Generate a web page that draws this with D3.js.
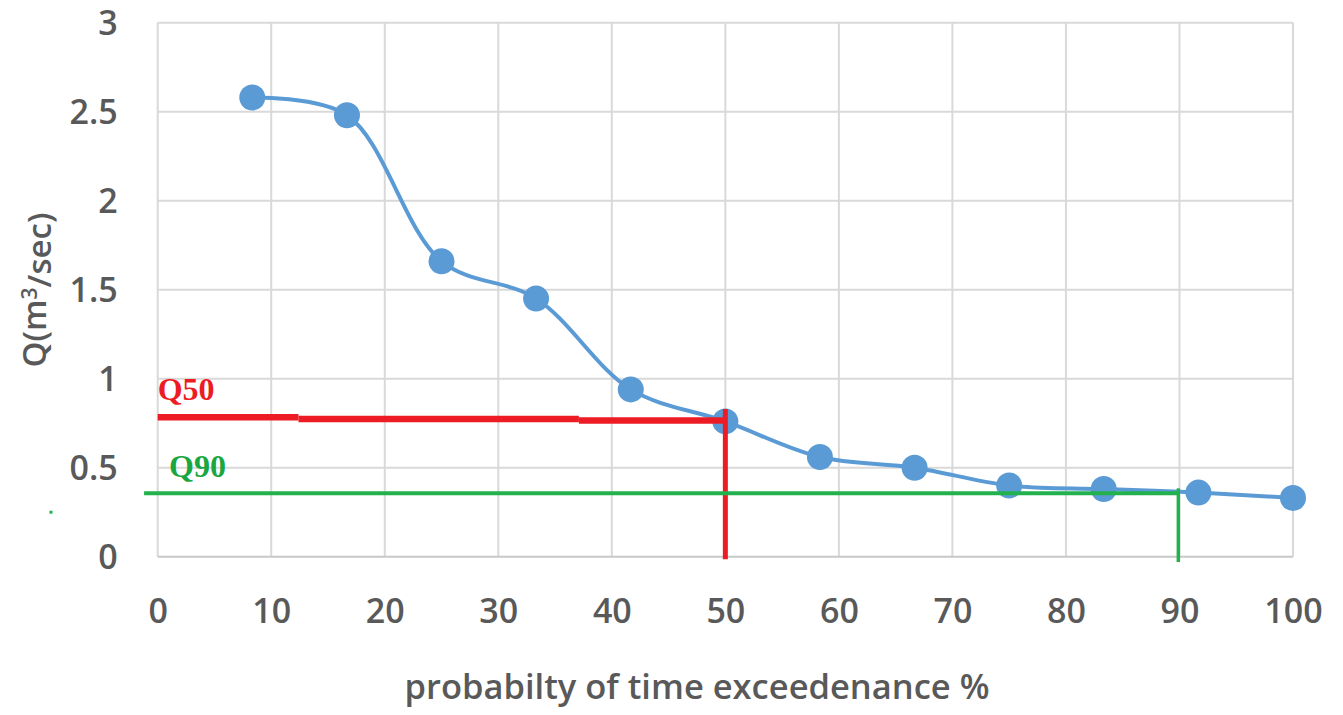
<!DOCTYPE html>
<html>
<head>
<meta charset="utf-8">
<script src="https://cdn.jsdelivr.net/npm/d3@7"></script>
<style>
  body { margin: 0; background: #fff; }
  svg { display: block; }
  .tick text { font-family: "Open Sans", sans-serif; font-weight: 600; fill: #595959; }
</style>
</head>
<body>
<script>
// data
var probs = [8.33, 16.67, 25, 33.33, 41.67, 50, 58.33, 66.67, 75, 83.33, 91.67, 100];
var flows = [2.58, 2.48, 1.66, 1.45, 0.94, 0.76, 0.56, 0.50, 0.40, 0.38, 0.36, 0.33];
var xTicks = [0, 10, 20, 30, 40, 50, 60, 70, 80, 90, 100];
var yTicks = [0, 0.5, 1, 1.5, 2, 2.5, 3];

// hand drawn Q50 / Q90 marks: [x1, x2, y] and [x, y1, y2]
var q50Segments = [[0, 12.4, 0.783], [12.4, 37.1, 0.774], [37.1, 50, 0.765]];
var q50Drop = [50, 0.83, -0.015];
var q90Line = [-1.2, 89.9, 0.357];
var q90Drop = [89.9, 0.384, -0.03];
var q90Dot = [-9.4, 0.25];

var width = 1343, height = 715;
var margin = {top: 22.7, right: 50, bottom: 158.3, left: 157.7};
var w = width - margin.left - margin.right,
    h = height - margin.top - margin.bottom;

var svg = d3.select("body")
    .append("svg")
    .attr("width", width)
    .attr("height", height);

var g = svg.append("g")
    .attr("transform", "translate(" + margin.left + "," + margin.top + ")");

var x = d3.scaleLinear().domain([0, 100]).range([0, w]);
var y = d3.scaleLinear().domain([0, 3]).range([h, 0]);

// gridlines
g.append("g")
    .selectAll("line.vg")
    .data(xTicks)
    .enter().append("line")
    .attr("x1", d => x(d)).attr("x2", d => x(d))
    .attr("y1", 0).attr("y2", h)
    .style("stroke", "#d9d9d9")
    .style("stroke-width", 2);

g.append("g")
    .selectAll("line.hg")
    .data(yTicks)
    .enter().append("line")
    .attr("x1", 0).attr("x2", w)
    .attr("y1", d => y(d)).attr("y2", d => y(d))
    .style("stroke", d => d === 0 ? "#c8c8c8" : "#d9d9d9")
    .style("stroke-width", 2);

// axes (labels only)
var xAxis = g.append("g")
    .attr("transform", "translate(0," + h + ")")
    .call(d3.axisBottom(x).tickValues(xTicks).tickSize(0).tickFormat(d3.format("d")));
xAxis.select(".domain").remove();
xAxis.selectAll("text")
    .attr("y", 66).attr("dy", 0)
    .style("font-size", "34px");

var yAxis = g.append("g")
    .call(d3.axisLeft(y).tickValues(yTicks).tickSize(0).tickPadding(40).tickFormat(d => String(d)));
yAxis.select(".domain").remove();
yAxis.selectAll("text")
    .attr("dy", "0.36em")
    .style("font-size", "34px");

// axis titles
svg.append("text")
    .attr("x", 697)
    .attr("y", 699)
    .attr("text-anchor", "middle")
    .style("font-family", "Open Sans, sans-serif")
    .style("font-weight", 600)
    .style("font-size", "34.5px")
    .style("fill", "#595959")
    .text("probabilty of time exceedenance %");

var yTitle = svg.append("text")
    .attr("transform", "translate(46,290) rotate(-90)")
    .attr("text-anchor", "middle")
    .style("font-family", "Open Sans, sans-serif")
    .style("font-weight", 600)
    .style("font-size", "33px")
    .style("fill", "#595959");
yTitle.append("tspan").text("Q(m");
yTitle.append("tspan").attr("dy", "-0.45em").style("font-size", "21px").text("3");
yTitle.append("tspan").attr("dy", "0.45em").text("/sec)");

// flow duration curve
var pts = probs.map((p, i) => [p, flows[i]]);
var line = d3.line()
    .x(d => x(d[0]))
    .y(d => y(d[1]))
    .curve(d3.curveCatmullRom.alpha(0.5));

g.append("path")
    .datum(pts)
    .attr("d", line)
    .style("fill", "none")
    .style("stroke", "#5b9bd5")
    .style("stroke-width", 4);

g.selectAll("circle.pt")
    .data(pts)
    .enter().append("circle")
    .attr("cx", d => x(d[0]))
    .attr("cy", d => y(d[1]))
    .attr("r", 13)
    .style("fill", "#5b9bd5");

// Q50 marks
g.selectAll("line.q50")
    .data(q50Segments)
    .enter().append("line")
    .attr("x1", d => x(d[0])).attr("x2", d => x(d[1]))
    .attr("y1", d => y(d[2])).attr("y2", d => y(d[2]))
    .style("stroke", "#ed1c24")
    .style("stroke-width", 6.5);

g.append("line")
    .attr("x1", x(q50Drop[0])).attr("x2", x(q50Drop[0]))
    .attr("y1", y(q50Drop[1])).attr("y2", y(q50Drop[2]))
    .style("stroke", "#ed1c24")
    .style("stroke-width", 5);

// Q90 marks
g.append("line")
    .attr("x1", x(q90Line[0])).attr("x2", x(q90Line[1]))
    .attr("y1", y(q90Line[2])).attr("y2", y(q90Line[2]))
    .style("stroke", "#22b14c")
    .style("stroke-width", 4);

g.append("line")
    .attr("x1", x(q90Drop[0])).attr("x2", x(q90Drop[0]))
    .attr("y1", y(q90Drop[1])).attr("y2", y(q90Drop[2]))
    .style("stroke", "#22b14c")
    .style("stroke-width", 3.5);

g.append("rect")
    .attr("x", x(q90Dot[0]) - 1.5)
    .attr("y", y(q90Dot[1]) - 1.5)
    .attr("width", 3).attr("height", 3)
    .style("fill", "#22b14c");

// labels
g.append("text")
    .attr("x", x(0))
    .attr("y", y(0.88))
    .style("font-family", "Liberation Serif, Times New Roman, serif")
    .style("font-weight", 700)
    .style("font-size", "32px")
    .style("fill", "#ed1c24")
    .text("Q50");

g.append("text")
    .attr("x", x(1))
    .attr("y", y(0.445))
    .style("font-family", "Liberation Serif, Times New Roman, serif")
    .style("font-weight", 700)
    .style("font-size", "32px")
    .style("fill", "#1aa640")
    .text("Q90");
</script>
</body>
</html>
